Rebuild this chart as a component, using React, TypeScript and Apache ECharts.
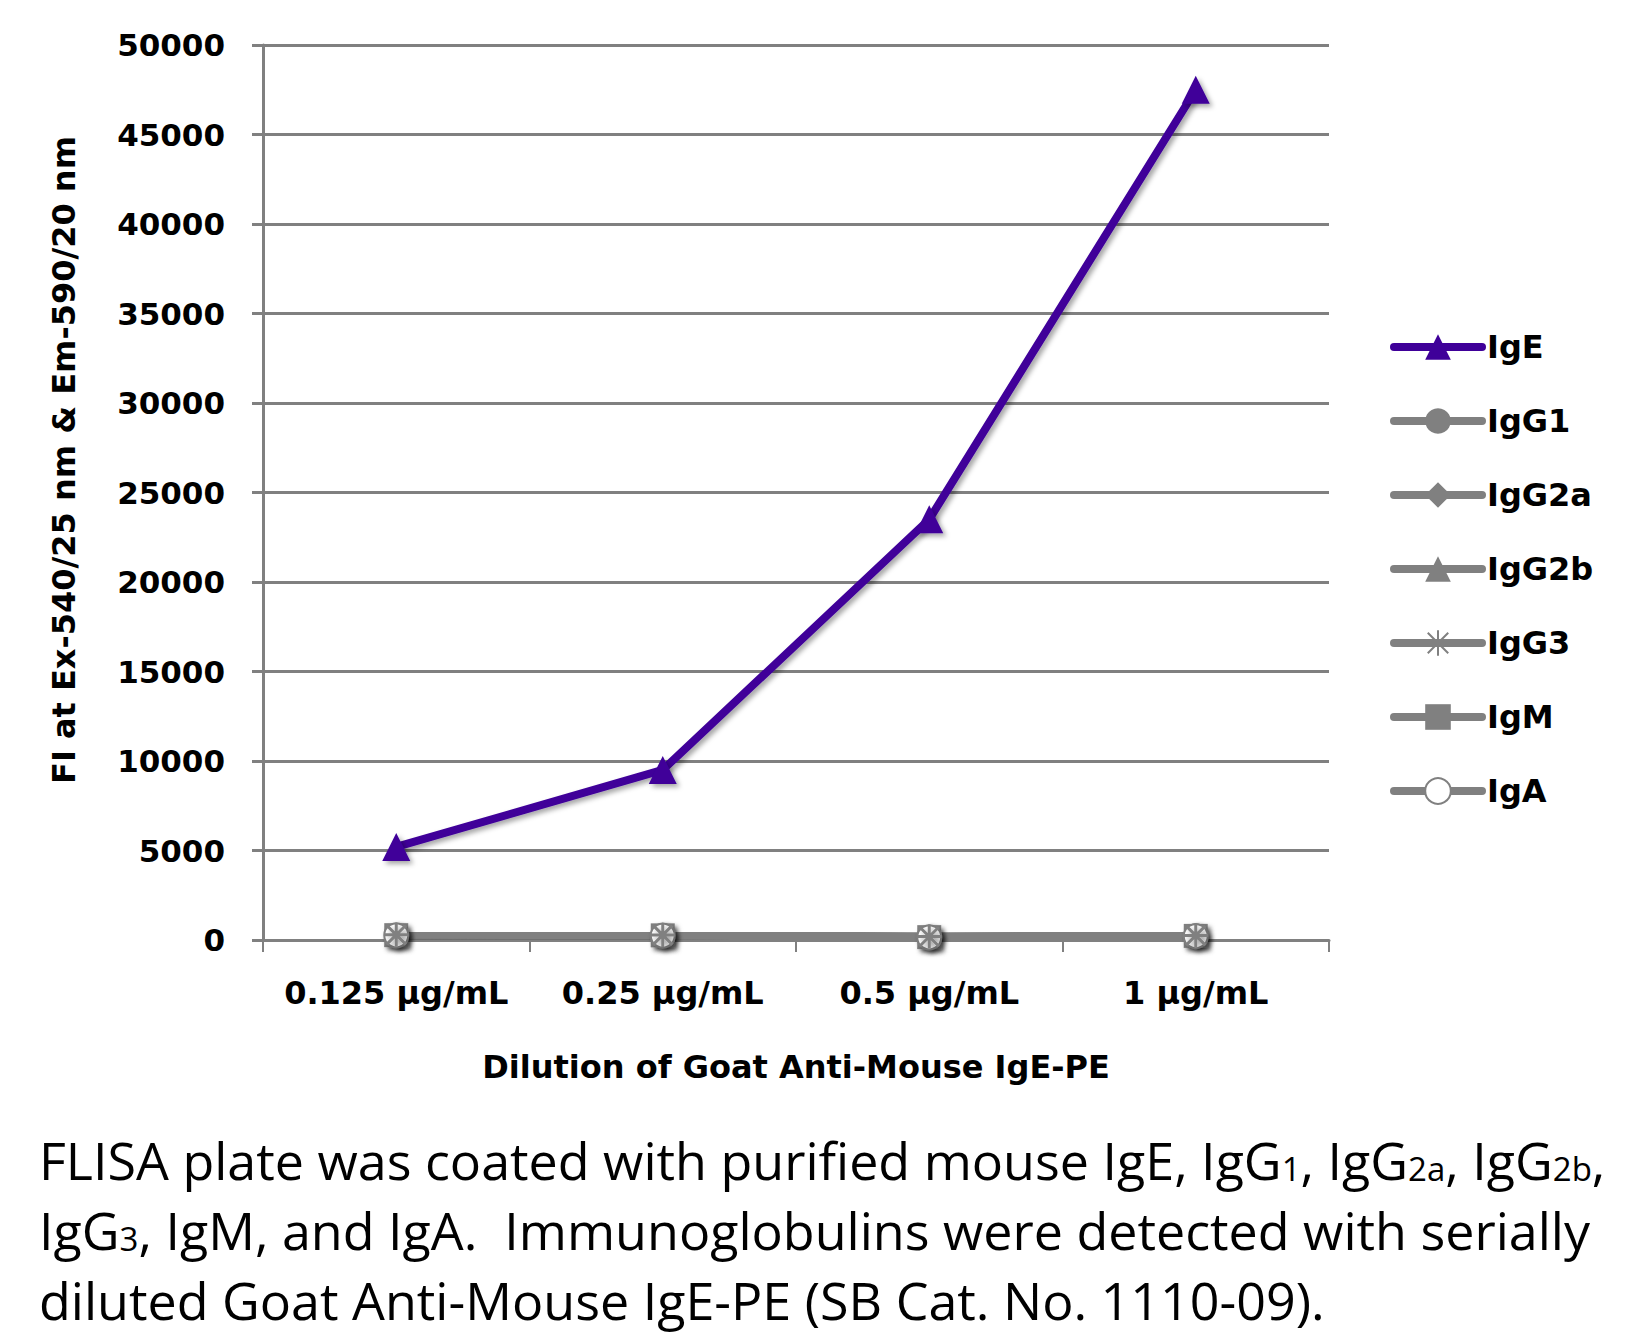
import React, { useEffect, useRef } from "react";
import * as echarts from "echarts";

const categories = ["0.125 µg/mL", "0.25 µg/mL", "0.5 µg/mL", "1 µg/mL"];
const seriesNames = ["IgE", "IgG1", "IgG2a", "IgG2b", "IgG3", "IgM", "IgA"];
const IgE = [5200, 9500, 23500, 47500];
const IgG1 = [300, 290, 180, 260];
const IgG2a = [280, 270, 170, 240];
const IgG2b = [310, 300, 200, 270];
const IgG3 = [290, 280, 190, 250];
const IgM = [270, 260, 160, 230];
const IgA = [260, 250, 150, 220];
const yMin = 0;
const yMax = 50000;
const yInterval = 5000;
const xTitle = "Dilution of Goat Anti-Mouse IgE-PE";
const yTitle = "FI at Ex-540/25 nm & Em-590/20 nm";
const captionLines = [
  "{n|FLISA plate was coated with purified mouse IgE, IgG}{s|1}{n|, IgG}{s|2a}{n|, IgG}{s|2b}{n|,}",
  "{n|IgG}{s|3}{n|, IgM, and IgA.  Immunoglobulins were detected with serially}",
  "{n|diluted Goat Anti-Mouse IgE-PE (SB Cat. No. 1110-09).}",
];

const PURPLE = "#3f0099";
const GREY = "#808080";
const BOLD = "DejaVu Sans";
const CAP = "Open Sans";

const ASTERISK = "path://M2,2L18,18M18,2L2,18M10,0L10,20M0,10L20,10";

export default function App() {
  const ref = useRef<HTMLDivElement>(null);
  useEffect(() => {
    document.body.style.margin = "0";
    const chart = echarts.init(ref.current!, undefined, { renderer: "svg" });
    const shadow = {
      shadowColor: "rgba(0,0,0,0.35)",
      shadowBlur: 5,
      shadowOffsetX: 3,
      shadowOffsetY: 3,
    };
    const mk = (name: string, data: number[], color: string, symbol: string, extraItem: any = {}) => ({
      name,
      type: "line",
      data,
      symbol,
      symbolSize: name === "IgE" ? 28 : 24,
      lineStyle: { color, width: 8, ...shadow },
      itemStyle: { color, ...shadow, ...extraItem },
      emphasis: { disabled: true },
    });
    const capFont = 52;
    const sub = { fontSize: 33, fontFamily: CAP, color: "#000", verticalAlign: "bottom" as const, lineHeight: 60 };
    const norm = { fontSize: capFont, fontFamily: CAP, color: "#000", verticalAlign: "bottom" as const, lineHeight: 60 };
    const capText = (text: string, y: number) => ({
      type: "text",
      x: 39,
      y,
      style: {
        text,
        fontFamily: CAP,
        fontSize: capFont,
        fill: "#000",
        verticalAlign: "middle",
        rich: { s: sub, n: norm },
      },
    });
    const captionY = [1155, 1225, 1295];
    chart.setOption({
      animation: false,
      backgroundColor: "#fff",
      grid: { left: 263, right: 300, top: 45, bottom: 397, containLabel: false },
      xAxis: {
        type: "category",
        data: categories,
        boundaryGap: true,
        axisLine: { lineStyle: { color: GREY, width: 3 } },
        axisTick: { show: true, length: 12, lineStyle: { color: GREY, width: 2 } },
        axisLabel: {
          interval: 0,
          margin: 37,
          color: "#000",
          fontFamily: BOLD,
          fontWeight: "bold",
          fontSize: 32,
        },
        name: xTitle,
        nameLocation: "middle",
        nameGap: 111,
        nameTextStyle: { color: "#000", fontFamily: BOLD, fontWeight: "bold", fontSize: 32 },
      },
      yAxis: {
        type: "value",
        min: yMin,
        max: yMax,
        interval: yInterval,
        axisLine: { show: true, lineStyle: { color: GREY, width: 3 } },
        axisTick: { show: true, length: 11, lineStyle: { color: GREY, width: 3 } },
        splitLine: { lineStyle: { color: GREY, width: 3 } },
        axisLabel: {
          margin: 38,
          color: "#000",
          fontFamily: BOLD,
          fontWeight: "bold",
          fontSize: 31,
          formatter: (v: number) => String(v),
        },
      },
      legend: {
        orient: "vertical",
        left: 1385,
        top: 326,
        itemWidth: 88,
        itemHeight: 32,
        itemGap: 42,
        data: seriesNames,
        lineStyle: { width: 8, cap: "round" },
        textStyle: { color: "#000", fontFamily: BOLD, fontWeight: "bold", fontSize: 32, lineHeight: 32 },
      },
      series: [
        mk("IgE", IgE, PURPLE, "triangle"),
        mk("IgG1", IgG1, GREY, "circle"),
        mk("IgG2a", IgG2a, GREY, "diamond"),
        mk("IgG2b", IgG2b, GREY, "triangle"),
        mk("IgM", IgM, GREY, "rect"),
        mk("IgA", IgA, GREY, "emptyCircle", { borderColor: GREY, borderWidth: 3 }),
        mk("IgG3", IgG3, GREY, ASTERISK, { color: "none", borderColor: GREY, borderWidth: 3 }),
      ],
      graphic: [
        {
          type: "text",
          x: 64,
          y: 460,
          rotation: Math.PI / 2,
          style: {
            text: yTitle,
            fontFamily: BOLD,
            fontWeight: "bold",
            fontSize: 32,
            fill: "#000",
            align: "center",
            verticalAlign: "middle",
          },
        },
        ...captionLines.map((t, i) => capText(t, captionY[i])),
      ],
    });
    return () => chart.dispose();
  }, []);
  return <div ref={ref} style={{ width: 1629, height: 1337 }} />;
}
